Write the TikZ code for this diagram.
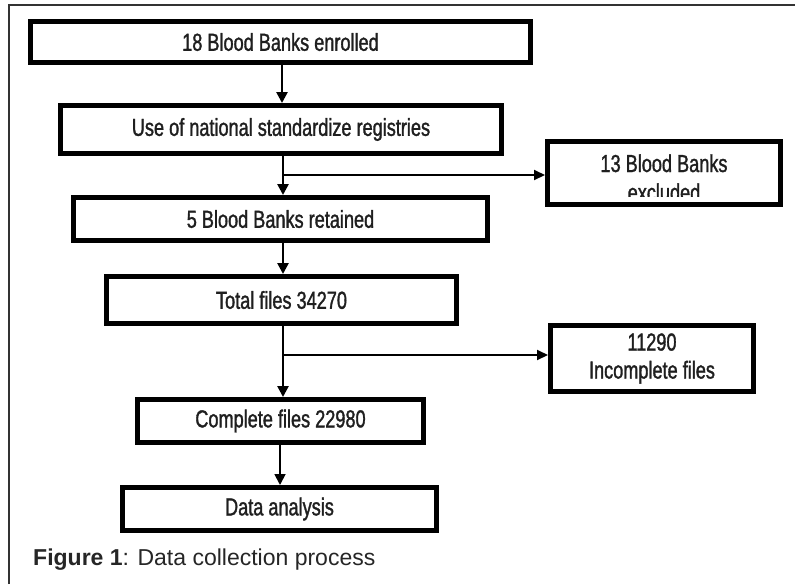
\documentclass[tikz,border=0pt]{standalone}
\usepackage{fontspec}
\setmainfont{Liberation Sans}
\newfontfamily\boxfont[FakeStretch=0.74, FakeBold=1.3]{Liberation Sans}
\usetikzlibrary{arrows.meta}
\begin{document}
\begin{tikzpicture}[x=1pt,y=-1pt,
  box/.style={draw=black, line width=5pt, fill=white, inner sep=0pt,
    font=\boxfont\fontsize{24.5}{28}\selectfont, text=black!88, align=center},
  lbl/.style={inner sep=0pt, font=\boxfont\fontsize{24.5}{28}\selectfont, text=black!88},
  arr/.style={draw=black, line width=2.6pt, -{Triangle[length=11pt,width=11pt]}},
  harr/.style={draw=black, line width=2pt, -{Triangle[length=11pt,width=10pt]}},
  frame/.style={draw=black!80, line width=2pt}]
\useasboundingbox (0,0) rectangle (795,584);
\fill[white] (0,0) rectangle (795,584);
\draw[frame] (9,584) -- (9,5) -- (795,5);

\node[box, minimum width=500pt, minimum height=41pt] (b1) at (280.5,42) {18 Blood Banks enrolled};
\node[box, minimum width=441pt, minimum height=48pt] (b2) at (281,129.5) {Use of national standardize registries};
\node[box, minimum width=233pt, minimum height=63pt] (b3) at (664,173) {};
\begin{scope}
  \clip (545,139) rectangle (783,196);
  \node[lbl, anchor=base] (b3a) at (664,172) {13 Blood Banks};
  \node[lbl, anchor=base] (b3b) at (664,201) {excluded};
\end{scope}
\node[box, minimum width=414pt, minimum height=43pt] (b4) at (280.5,219) {5 Blood Banks retained};
\node[box, minimum width=350pt, minimum height=47pt] (b5) at (281.5,300) {Total files 34270};
\node[box, minimum width=203pt, minimum height=66pt] (b6) at (652,358.5) {11290\\Incomplete files};
\node[box, minimum width=286pt, minimum height=43pt] (b7) at (280.5,421) {Complete files 22980};
\node[box, minimum width=314pt, minimum height=43pt] (b8) at (279.5,509) {Data analysis};

\coordinate (j0) at (282,80);
\coordinate (j1) at (283,175);
\coordinate (j2) at (283,355);
\coordinate (j3) at (280,465);

\draw[arr] (b1.south -| j0) -- (b2.north -| j0);
\draw[arr] (b2.south -| j1) -- (b4.north -| j1);
\draw[harr] (j1) -- (j1 -| b3.west);
\draw[arr] (b4.south -| j1) -- (b5.north -| j1);
\draw[arr] (b5.south -| j2) -- (b7.north -| j2);
\draw[harr] (j2) -- (j2 -| b6.west);
\draw[arr, line width=1.8pt] (b7.south -| j3) -- (b8.north -| j3);

\node[anchor=base west, inner sep=0pt, font=\fontsize{23}{27}\selectfont, text=black!85] (cap) at (33,565) {\textbf{Figure 1}: Data collection process};
\end{tikzpicture}
\end{document}
